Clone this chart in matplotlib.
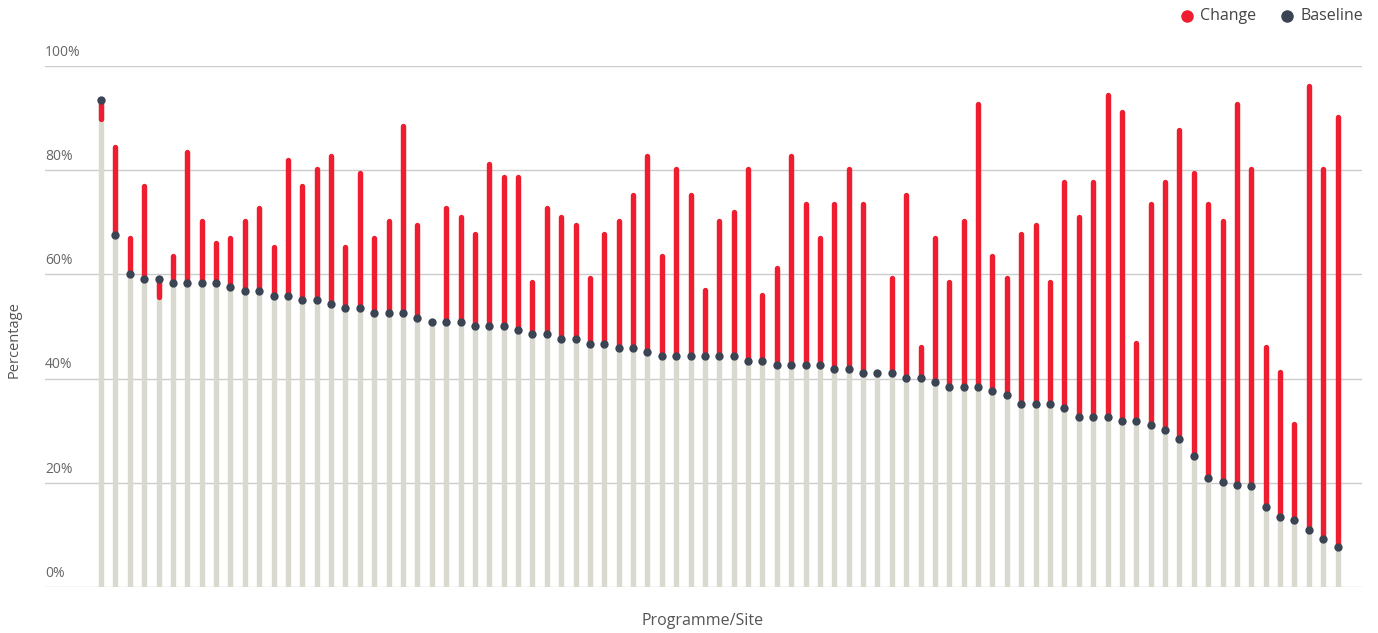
import matplotlib
matplotlib.use("Agg")
import numpy as np
import matplotlib.pyplot as plt
from matplotlib.lines import Line2D

plt.rcParams['font.family'] = ['Open Sans', 'DejaVu Sans']

# baseline and value after the programme, percent, one pair per programme/site
baseline = [93.5, 67.5, 60.1, 59.2, 59.2, 58.4, 58.4, 58.4, 58.4, 57.6,
            56.8, 56.8, 55.9, 55.9, 55.1, 55.1, 54.3, 53.5, 53.5, 52.6,
            52.6, 52.6, 51.7, 50.9, 50.9, 50.9, 50.1, 50.1, 50.1, 49.3,
            48.5, 48.5, 47.6, 47.6, 46.7, 46.7, 45.9, 45.9, 45.1, 44.3,
            44.3, 44.3, 44.3, 44.3, 44.3, 43.4, 43.4, 42.6, 42.6, 42.6,
            42.6, 41.8, 41.8, 41.0, 41.0, 41.0, 40.2, 40.2, 39.3, 38.4,
            38.4, 38.4, 37.6, 36.8, 35.1, 35.1, 35.1, 34.3, 32.6, 32.6,
            32.6, 31.8, 31.8, 31.0, 30.1, 28.5, 25.1, 21.0, 20.2, 19.6,
            19.4, 15.4, 13.5, 12.8, 11.0, 9.3, 7.7]
after = [89.8, 84.4, 66.9, 76.9, 55.7, 63.6, 83.5, 70.2, 66.1, 66.9,
         70.2, 72.8, 65.3, 81.9, 76.9, 80.3, 82.7, 65.3, 79.4, 66.9,
         70.2, 88.5, 69.5, 50.9, 72.8, 71.0, 67.7, 81.1, 78.6, 78.6,
         58.6, 72.8, 71.1, 69.5, 59.4, 67.7, 70.2, 75.2, 82.7, 63.6,
         80.3, 75.2, 57.0, 70.2, 71.9, 80.3, 56.1, 61.2, 82.7, 73.6,
         66.9, 73.6, 80.3, 73.6, 41.0, 59.4, 75.2, 46.1, 66.9, 58.6,
         70.2, 92.8, 63.6, 59.4, 67.7, 69.5, 58.6, 77.8, 71.1, 77.8,
         94.4, 91.1, 46.9, 73.6, 77.8, 87.8, 79.4, 73.6, 70.2, 92.8,
         80.3, 46.1, 41.2, 31.2, 96.1, 80.3, 90.3]
yticks = [0, 20, 40, 60, 80, 100]

red = '#EE1D2F'
dark = '#3B4452'
grey = '#D9D9D0'

base = np.array(baseline)
aft = np.array(after)
x = np.arange(len(base))

W, H = 1378, 633
fig = plt.figure(figsize=(W / 100, H / 100), dpi=100)
ax = fig.add_axes([45 / W, 46 / H, 1317 / W, 521 / H])

for v in yticks:
    ax.axhline(v, color='#CCCCCC', lw=1, zorder=0)
    ax.annotate(f'{v}%', xy=(0, v), xycoords=('axes fraction', 'data'),
                xytext=(0, 4.5), textcoords='offset points',
                ha='left', va='bottom', fontsize=10, color='#666666')

bars = ax.vlines(x, 0, base, color=grey, lw=3.9, zorder=1)
bars.set_capstyle('round')
moved = aft != base
chg = ax.vlines(x[moved], base[moved], aft[moved], color=red, lw=3.9, zorder=2)
chg.set_capstyle('round')
ax.scatter(x, base, s=36, color=dark, zorder=3, linewidths=0)

ax.set_xlim(-3.9, 87.7)
ax.set_ylim(0, 100)
ax.set_xticks([])
ax.set_yticks([])
for s in ax.spines.values():
    s.set_visible(False)

fig.text(703 / W, 1 - 621 / H, 'Programme/Site', ha='center', va='center',
         fontsize=11.5, color='#555555')
fig.text(14 / W, 1 - 340 / H, 'Percentage', ha='center', va='center',
         rotation=90, fontsize=10.5, color='#555555')

# legend, top right
for cx, tx, col, lab in [(1187, 1200, red, 'Change'), (1287, 1300, dark, 'Baseline')]:
    fig.add_artist(Line2D([cx / W], [1 - 16 / H], transform=fig.transFigure,
                          marker='o', ls='', markersize=9,
                          markerfacecolor=col, markeredgewidth=0))
    fig.text(tx / W, 1 - 16 / H, lab, ha='left', va='center',
             fontsize=11.5, color='#444444')

fig.savefig('out.png', dpi=100)
